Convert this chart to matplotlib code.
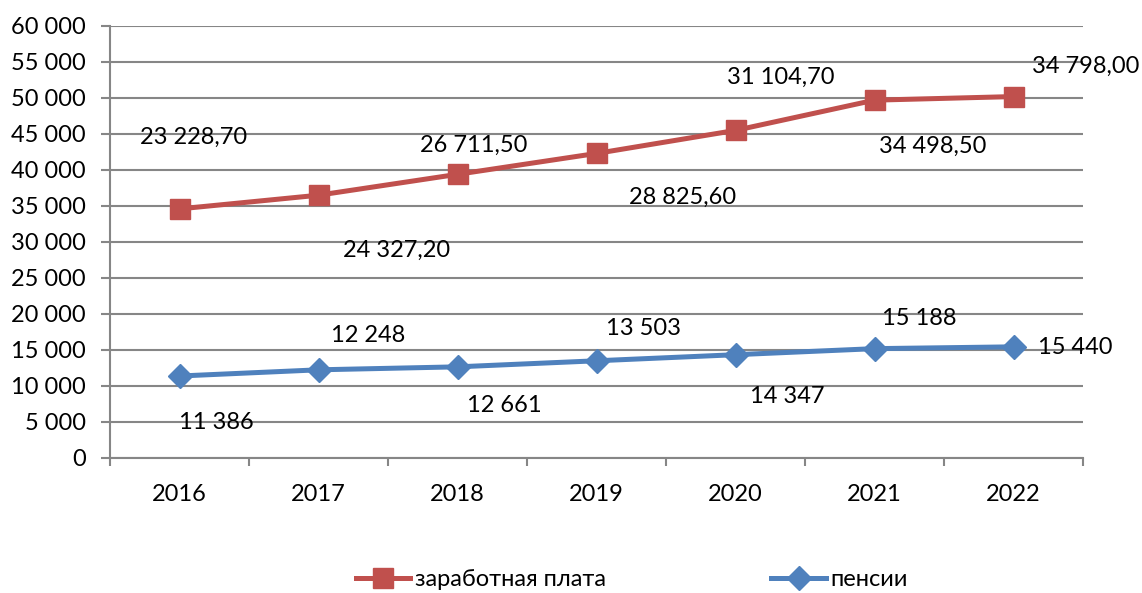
import matplotlib
matplotlib.use('Agg')
import matplotlib.pyplot as plt
from matplotlib.ticker import FuncFormatter, FixedLocator

# data
years = ['2016', '2017', '2018', '2019', '2020', '2021', '2022']
salary = [34600, 36500, 39400, 42300, 45500, 49700, 50200]
salary_labels = ['23 228,70', '24 327,20', '26 711,50', '28 825,60', '31 104,70', '34 498,50', '34 798,00']
pension = [11386, 12248, 12661, 13503, 14347, 15188, 15440]
pension_labels = ['11 386', '12 248', '12 661', '13 503', '14 347', '15 188', '15 440']

# label offsets in pixels (dx, dy)
salary_off = [(14, 72), (78, -55), (16, 29), (86, -44), (45, 53), (58, -46), (72, 30)]
pension_off = [(37, -46), (50, 34), (47, -39), (47, 32), (52, -42), (45, 30), (62, -1)]

red = '#C0504D'
blue = '#4F81BD'
grid_c = '#868686'
fs = 17

plt.rcParams['font.family'] = ['Lato', 'DejaVu Sans']

fig = plt.figure(figsize=(11.42, 5.93), dpi=100)
ax = fig.add_axes([110/1142, 1-458/593, (1083-110)/1142, (458-26)/593])

x = list(range(len(years)))
ax.plot(x, salary, color=red, lw=3.6, marker='s', ms=15, label='заработная плата', zorder=3)
ax.plot(x, pension, color=blue, lw=3.6, marker='D', ms=12.5, label='пенсии', zorder=3)

for i in x:
    ax.annotate(salary_labels[i], (i, salary[i]), xytext=salary_off[i], textcoords='offset pixels',
                ha='center', va='center', fontsize=fs)
    ax.annotate(pension_labels[i], (i, pension[i]), xytext=pension_off[i], textcoords='offset pixels',
                ha='center', va='center', fontsize=fs)

ax.set_xlim(-0.5, 6.5)
ax.set_ylim(0, 60000)
ax.set_yticks(range(0, 60001, 5000))
ax.yaxis.set_major_formatter(FuncFormatter(lambda v, p: f'{int(v):,}'.replace(',', ' ')))
ax.grid(axis='y', color=grid_c, lw=1.5, zorder=0)
ax.set_axisbelow(True)

ax.set_xticks(x)
ax.set_xticklabels(years)
ax.xaxis.set_minor_locator(FixedLocator([i - 0.5 for i in range(8)]))
ax.tick_params(axis='x', which='major', length=0, pad=19, labelsize=fs)
ax.tick_params(axis='x', which='minor', length=6, width=1.5, color=grid_c)
ax.tick_params(axis='y', length=6.5, width=1.5, color=grid_c, pad=11, labelsize=fs)

for s in ['top', 'right']:
    ax.spines[s].set_visible(False)
for s in ['left', 'bottom']:
    ax.spines[s].set_color(grid_c)
    ax.spines[s].set_linewidth(1.5)

fig.legend(loc='center', bbox_to_anchor=(632/1142, 1-580/593), ncol=2, frameon=False,
           fontsize=fs, handlelength=2.3, handletextpad=0.2, columnspacing=7.0)

fig.savefig('out.png', dpi=100)
